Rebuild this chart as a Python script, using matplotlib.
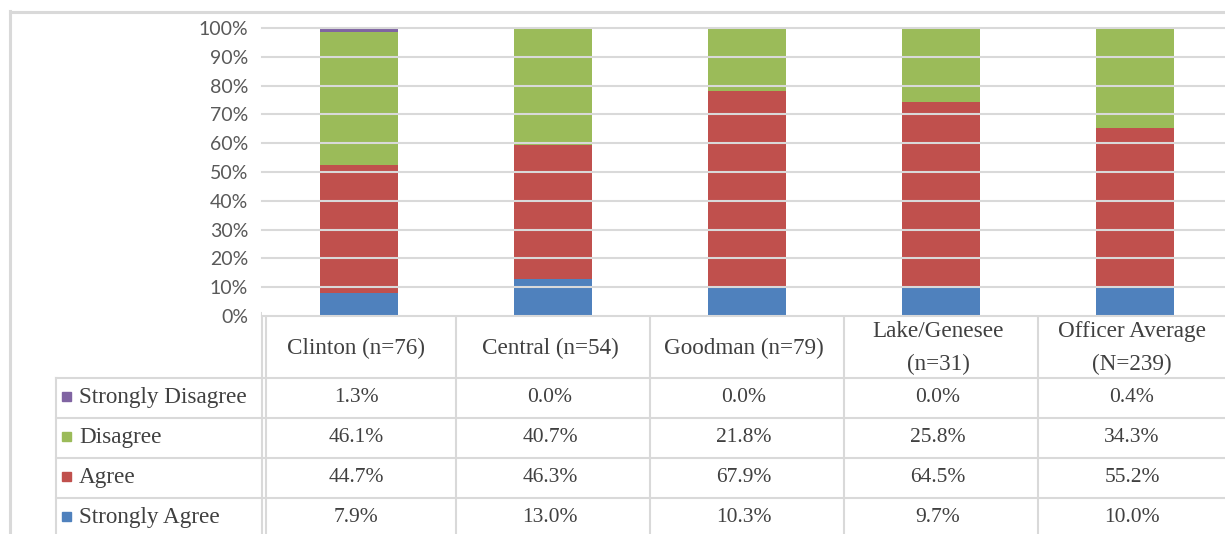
import numpy as np
import matplotlib.pyplot as plt
from matplotlib.patches import Rectangle

# data
sites = ['Clinton (n=76)', 'Central (n=54)', 'Goodman (n=79)',
         'Lake/Genesee\n(n=31)', 'Officer Average\n(N=239)']
strongly_agree = [7.9, 13.0, 10.3, 9.7, 10.0]
agree = [44.7, 46.3, 67.9, 64.5, 55.2]
disagree = [46.1, 40.7, 21.8, 25.8, 34.3]
strongly_disagree = [1.3, 0.0, 0.0, 0.0, 0.4]

series_names = ['Strongly Agree', 'Agree', 'Disagree', 'Strongly Disagree']
series_vals = [strongly_agree, agree, disagree, strongly_disagree]
colors = ['#4F81BD', '#C0504D', '#9BBB59', '#8064A2']

W, H = 1225, 534
fig = plt.figure(figsize=(W / 100, H / 100), dpi=100)

grid_c = '#d9d9d9'
txt_c = '#404040'
serif = ['Liberation Serif', 'DejaVu Serif']

# layout (pixels)
x0 = 262        # left of plot area
col_w = 194     # width of one category column
y_top = 28      # 100%
y_base = 316    # 0%

ax = fig.add_axes([x0 / W, 1 - y_base / H, 5 * col_w / W, (y_base - y_top) / H])
x = np.arange(len(sites))
bottom = np.zeros(len(sites))
for name, vals, c in zip(series_names, series_vals, colors):
    v = np.array(vals) / 100
    ax.bar(x, v, 0.4, bottom=bottom, color=c, zorder=2)
    bottom += v

ax.set_xlim(-0.5, len(sites) - 0.5)
ax.set_ylim(0, 1)
yt = np.arange(0, 1.01, 0.1)
ax.set_yticks(yt)
ax.set_yticklabels([f'{int(round(t * 100))}%' for t in yt],
                   fontfamily=['Lato', 'DejaVu Sans'], fontsize=14, color='#595959')
ax.tick_params(axis='y', length=0, pad=10)
ax.set_xticks([])
for t in yt:
    ax.axhline(t, color=grid_c, lw=1.5, zorder=3, clip_on=False)
for s in ax.spines.values():
    s.set_visible(False)

# overlay in pixel coordinates for frame and data table
ov = fig.add_axes([0, 0, 1, 1], zorder=-1)
ov.set_xlim(0, W)
ov.set_ylim(H, 0)
ov.axis('off')

lw = 1.5
# outer frame
ov.plot([10, 10], [11, H], color=grid_c, lw=2.2)
ov.plot([10, W], [12, 12], color=grid_c, lw=2.2)

col_edges = [x0 + col_w * k for k in range(6)]
row_edges = [378, 418, 458, 498, 538]
lab_left = 56

for y in row_edges[:-1]:
    ov.plot([lab_left, W], [y, y], color=grid_c, lw=lw)
ov.plot([lab_left, lab_left], [row_edges[0], H], color=grid_c, lw=lw)
ov.plot([x0, x0], [313, H], color=grid_c, lw=lw)
ov.plot([x0 + 4, x0 + 4], [313, H], color=grid_c, lw=lw)
for xe in col_edges[1:-1]:
    ov.plot([xe, xe], [312, H], color=grid_c, lw=lw)

font = dict(family=serif, fontsize=16.7, color=txt_c)

# header row
for i, s in enumerate(sites):
    cx = x0 + col_w * (i + 0.5) - 3
    ov.text(cx, (y_base + row_edges[0]) / 2 + 1, s, ha='center', va='center',
            linespacing=1.7, **font)

# rows: top row is Strongly Disagree
order = [3, 2, 1, 0]
for r, k in enumerate(order):
    cy = (row_edges[r] + row_edges[r + 1]) / 2
    ov.add_patch(Rectangle((62, cy - 6), 9, 9, color=colors[k]))
    ov.text(79, cy, series_names[k], ha='left', va='center', **font)
    for i, v in enumerate(series_vals[k]):
        cx = x0 + col_w * (i + 0.5) - 3
        ov.text(cx, cy, f'{v:.1f}%', ha='center', va='center',
                family=serif, fontsize=15.5, color=txt_c)

fig.savefig('out.png', dpi=100)
